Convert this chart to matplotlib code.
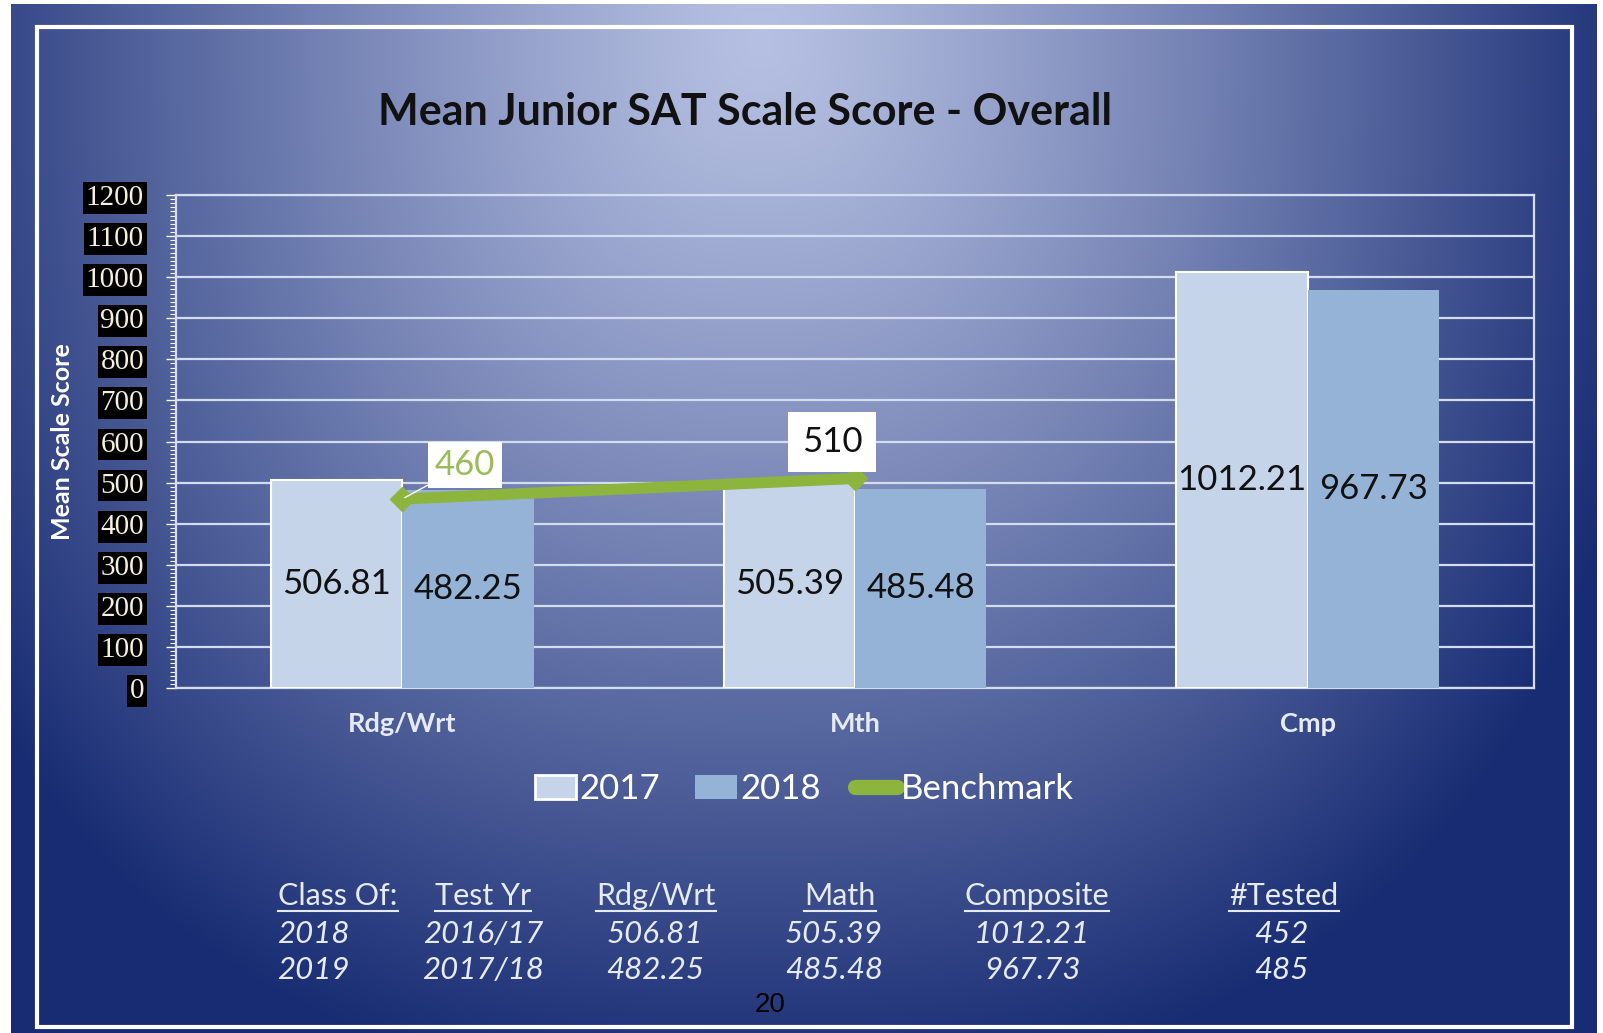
import numpy as np
import matplotlib.pyplot as plt
from matplotlib.patches import Patch, Rectangle
from matplotlib.lines import Line2D
from matplotlib.ticker import MultipleLocator

categories = ['Rdg/Wrt', 'Mth', 'Cmp']
scores_2017 = [506.81, 505.39, 1012.21]
scores_2018 = [482.25, 485.48, 967.73]
benchmark = [460, 510]
series_names = ['2017', '2018', 'Benchmark']

table_head = ['Class Of:', 'Test Yr', 'Rdg/Wrt', 'Math', 'Composite', '#Tested']
table_rows = [['2018', '2016/17', '506.81', '505.39', '1012.21', '452'],
              ['2019', '2017/18', '482.25', '485.48', '967.73', '485']]
page_no = '20'

W, H = 1603, 1033
fig = plt.figure(figsize=(W / 100, H / 100), dpi=100)
fig.patch.set_facecolor('white')

# slide background, light near the top middle, navy at the edges
bg = fig.add_axes([11 / W, 0, (1597 - 11) / W, (H - 4) / H])
yy, xx = np.mgrid[4:H, 11:1597]
d = (np.abs((xx - 760) / 900) ** 2.5 + np.abs((yy - 40) / 1050) ** 2.5) ** (1 / 2.5)
f = np.clip(d, 0, 1.0) ** 1.2
light = np.array([182, 192, 226]) / 255
dark = np.array([24, 44, 115]) / 255
img = light * (1 - f[..., None]) + dark * f[..., None]
bg.imshow(img, aspect='auto', extent=[0, 1, 0, 1])
bg.axis('off')

fig.add_artist(Rectangle((37 / W, 1 - 1027 / H), (1572 - 37) / W, (1027 - 27) / H,
                         fill=False, ec='white', lw=3, transform=fig.transFigure))

ax = fig.add_axes([176 / W, 1 - 688 / H, (1534 - 176) / W, (688 - 195) / H])
ax.patch.set_alpha(0)

x = np.arange(len(categories))
w = 0.29
b1 = ax.bar(x - w / 2, scores_2017, w, color='#c6d4ea', edgecolor='white', lw=1.5, zorder=3)
b2 = ax.bar(x + w / 2, scores_2018, w, color='#95b3d7', zorder=3)
ax.bar_label(b1, labels=[f'{v:.2f}' for v in scores_2017], label_type='center',
             fontsize=25, color='#111111', family='Lato')
ax.bar_label(b2, labels=[f'{v:.2f}' for v in scores_2018], label_type='center',
             fontsize=25, color='#111111', family='Lato')

green = '#8db43c'
ax.plot(x[:2], benchmark, color=green, lw=8, marker='D', ms=12, zorder=4)

ax.annotate(str(benchmark[0]), xy=(x[0], benchmark[0]), xytext=(0.138, 543),
            ha='center', va='center', color='#9bbb59', fontsize=25, family='Lato',
            bbox=dict(boxstyle='square,pad=0.2', fc='white', ec='none'),
            arrowprops=dict(arrowstyle='-', color='white', lw=1, shrinkA=0, shrinkB=2),
            zorder=5)
ax.annotate(str(benchmark[1]), xy=(x[1], benchmark[1]), xytext=(0.949, 599),
            ha='center', va='center', color='#111111', fontsize=25, family='Lato',
            bbox=dict(boxstyle='square,pad=0.4', fc='white', ec='none'), zorder=5)

ax.set_xlim(-0.5, 2.5)
ax.set_ylim(0, 1200)
ax.set_yticks(np.arange(0, 1201, 100))
ax.yaxis.set_minor_locator(MultipleLocator(10))
ax.set_xticks(x)
ax.set_xticklabels(categories, fontsize=19.5, fontweight='bold', color='#e6eaf5', family='Lato')
ax.yaxis.grid(True, color='#d4dcef', lw=1.6)
ax.set_axisbelow(True)
for s in ax.spines.values():
    s.set_color('#d4dcef')
    s.set_linewidth(1.6)
ax.tick_params(axis='x', length=0, pad=17)
ax.tick_params(axis='y', which='major', length=7, color='white', width=1, pad=16)
ax.tick_params(axis='y', which='minor', length=4, color='white', width=0.8)
for lab in ax.get_yticklabels():
    lab.set_family('Liberation Serif')
    lab.set_fontsize(21)
    lab.set_color('#f4f0dc')
    lab.set_bbox(dict(boxstyle='square,pad=0.1', fc='black', ec='none'))

fig.text(63 / W, 1 - 442 / H, 'Mean Scale Score', rotation=90, ha='center', va='center',
         fontsize=18, fontweight='bold', color='white', family='Lato')
fig.text(745 / W, 1 - 112 / H, 'Mean Junior SAT Scale Score - Overall', ha='center',
         va='center', fontsize=31, fontweight='bold', color='#111111', family='Lato')

handles = [Patch(facecolor='#c6d4ea', edgecolor='white', lw=2),
           Patch(facecolor='#95b3d7', edgecolor='none'),
           Line2D([], [], color=green, lw=11, solid_capstyle='round')]
fig.legend(handles, series_names, loc='center', bbox_to_anchor=(804 / W, 1 - 789 / H),
           ncol=3, frameon=False, prop=dict(family='Lato', size=25), labelcolor='white',
           handlelength=1.2, handleheight=0.7, handletextpad=0.1, columnspacing=1.0)

# summary table under the chart
head_x = [338, 483, 656, 840, 1037, 1284]
row_x = [313, 483, 655, 834, 1032, 1281]
row_y = [934, 970]
tc = '#e6eaf4'
heads = []
for hx, t in zip(head_x, table_head):
    heads.append(fig.text(hx / W, 1 - 896 / H, t, ha='center', va='center', fontsize=22,
                          color=tc, family='Lato'))
for ry, row in zip(row_y, table_rows):
    for rx, t in zip(row_x, row):
        fig.text(rx / W, 1 - ry / H, t, ha='center', va='center', fontsize=22.5, color=tc,
                 family='Lato', style='italic')

fig.canvas.draw()
r = fig.canvas.get_renderer()
for t in heads:
    bb = t.get_window_extent(r)
    yl = (bb.y0 - 1) / H
    fig.add_artist(Line2D([bb.x0 / W, bb.x1 / W], [yl, yl], color=tc, lw=1.5,
                          transform=fig.transFigure))

fig.text(770 / W, 1 - 1005 / H, page_no, ha='center', va='center', fontsize=20,
         color='black', family='Liberation Sans')

fig.savefig('out.png', dpi=100)
